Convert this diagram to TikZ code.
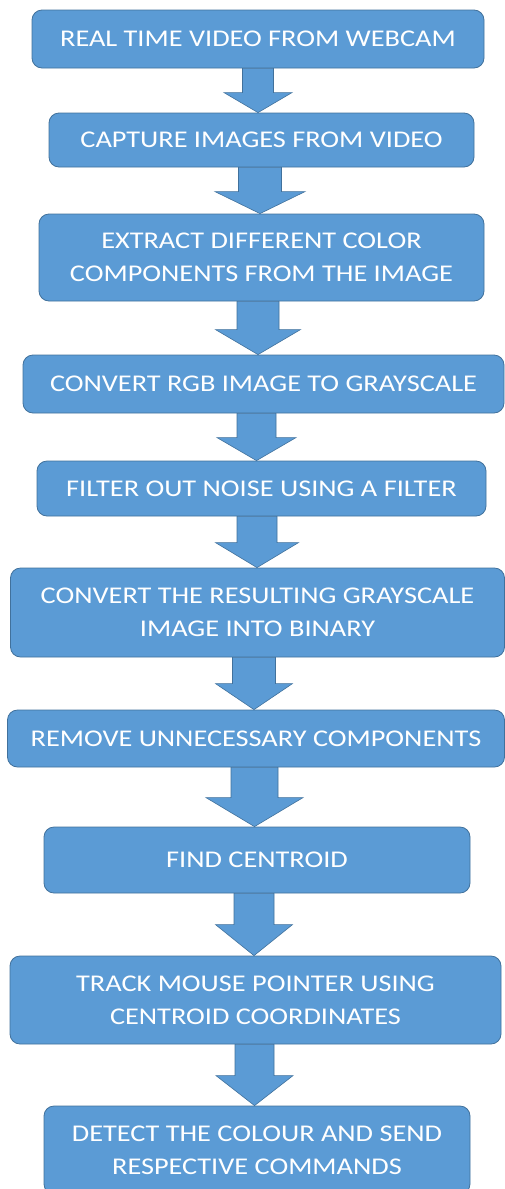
\documentclass[tikz,border=0pt]{standalone}
\usepackage{fontspec}
\setmainfont{Carlito}[FakeStretch=1.18]
\usetikzlibrary{calc}

\definecolor{boxblue}{HTML}{5B9BD5}
\definecolor{edgeblue}{HTML}{41719C}

% block arrow from the bottom of one box to the top of the next
\newcommand{\flowarrow}[6]{%
  \draw[arrowbody] let \p1=(#1.south), \p2=(#2.north) in
    (#3pt-#4pt,\y1) -- (#3pt+#4pt,\y1) -- (#3pt+#4pt,\y2+#6pt)
    -- (#3pt+#5pt,\y2+#6pt) -- (#3pt,\y2) -- (#3pt-#5pt,\y2+#6pt)
    -- (#3pt-#4pt,\y2+#6pt) -- cycle;
}

\begin{document}
\begin{tikzpicture}[x=1pt,y=-1pt,
    flowbox/.style={draw=edgeblue, line width=0.8pt, fill=boxblue, rounded corners=10pt,
      text=white, align=center, inner sep=0pt, font=\fontsize{24}{33}\selectfont},
    arrowbody/.style={draw=edgeblue, line width=0.6pt, fill=boxblue}]
    \useasboundingbox (0,0) rectangle (505,1189);

    \node[flowbox, minimum width=452pt, minimum height=58pt] (webcam) at (258,39) {REAL TIME VIDEO FROM WEBCAM};
    \node[flowbox, minimum width=425pt, minimum height=54pt] (capture) at (261.5,140) {CAPTURE IMAGES FROM VIDEO};
    \node[flowbox, minimum width=445pt, minimum height=87pt] (extract) at (261.5,257.5) {EXTRACT DIFFERENT COLOR\\COMPONENTS FROM THE IMAGE};
    \node[flowbox, minimum width=481pt, minimum height=58pt] (grayscale) at (263.5,384) {CONVERT RGB IMAGE TO GRAYSCALE};
    \node[flowbox, minimum width=449pt, minimum height=55pt] (filter) at (261.5,488.5) {FILTER OUT NOISE USING A FILTER};
    \node[flowbox, minimum width=494pt, minimum height=89pt] (binary) at (257.5,612.5) {CONVERT THE RESULTING GRAYSCALE\\IMAGE INTO BINARY};
    \node[flowbox, minimum width=497pt, minimum height=57pt] (remove) at (256,738.5) {REMOVE UNNECESSARY COMPONENTS};
    \node[flowbox, minimum width=426pt, minimum height=66pt] (centroid) at (257,860) {FIND CENTROID};
    \node[flowbox, minimum width=491pt, minimum height=88pt] (track) at (255.5,1000) {TRACK MOUSE POINTER USING\\CENTROID COORDINATES};
    \node[flowbox, minimum width=426pt, minimum height=88pt] (detect) at (257,1150) {DETECT THE COLOUR AND SEND\\RESPECTIVE COMMANDS};

    % arrows: from / to / x / half shaft / half head / head length
    \foreach \src/\dst/\mx/\sw/\hw/\hl in {webcam/capture/258/15.5/34/20,
        capture/extract/260/21.5/45/22, extract/grayscale/258/21/42.5/25,
        grayscale/filter/256.5/19.5/39.5/23, filter/binary/257/20/41.5/25,
        binary/remove/254/21.5/38.5/26, remove/centroid/254.5/23.5/48.5/29,
        centroid/track/254/20/38.5/31, track/detect/254.5/19.5/38.5/30}
      \flowarrow{\src}{\dst}{\mx}{\sw}{\hw}{\hl};
\end{tikzpicture}
\end{document}
